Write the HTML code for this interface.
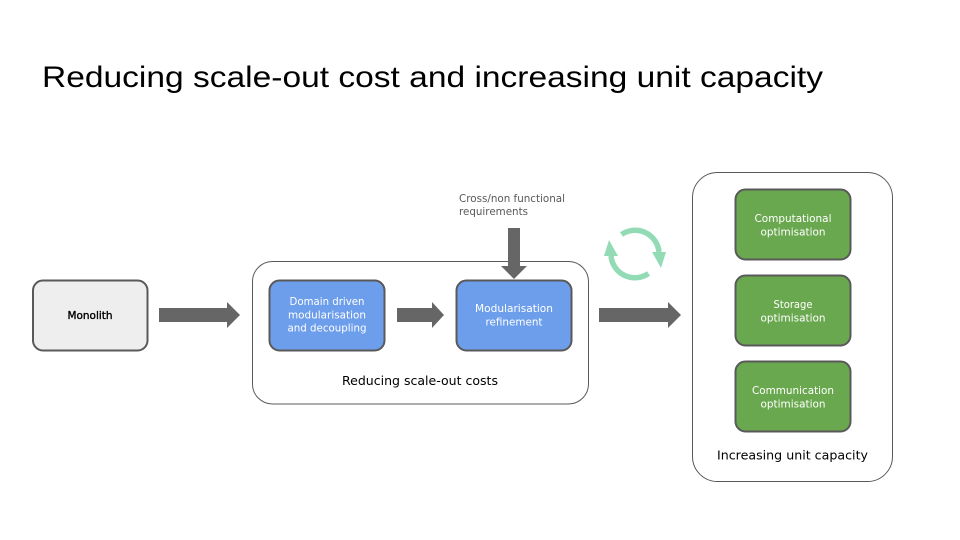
<!DOCTYPE html>
<html>
<head>
<meta charset="utf-8">
<style>
html,body{margin:0;padding:0;background:#fff;}
svg{display:block;}
</style>
</head>
<body>
<svg width="960" height="540" viewBox="0 0 960 540" xmlns="http://www.w3.org/2000/svg">
<rect width="960" height="540" fill="#ffffff"/>
<!-- Title -->
<text x="42" y="87" font-family="Liberation Sans, Arial, sans-serif" font-size="30" fill="#000" textLength="781" lengthAdjust="spacingAndGlyphs">Reducing scale-out cost and increasing unit capacity</text>

<!-- Monolith -->
<rect x="33" y="280.5" width="114.5" height="70" rx="10" fill="#eeeeee" stroke="#595959" stroke-width="2"/>
<text x="90" y="319" text-anchor="middle" font-family="DejaVu Sans, sans-serif" font-size="10.5" fill="#000" stroke="#000" stroke-width="0.35" textLength="45" lengthAdjust="spacingAndGlyphs">Monolith</text>

<!-- Arrow 1 -->
<polygon points="159,308 227,308 227,302 240,315 227,328 227,322 159,322" fill="#666666"/>

<!-- Left container -->
<rect x="252.5" y="261.5" width="336" height="142.5" rx="20" fill="none" stroke="#595959" stroke-width="1"/>

<!-- Domain box -->
<rect x="269.5" y="280.5" width="115" height="70" rx="10" fill="#6d9eeb" stroke="#595959" stroke-width="2"/>
<g font-family="DejaVu Sans, sans-serif" font-size="10.5" fill="#ffffff" text-anchor="middle">
<text x="327" y="305" textLength="75" lengthAdjust="spacingAndGlyphs">Domain driven</text>
<text x="327" y="318.5" textLength="78" lengthAdjust="spacingAndGlyphs">modularisation</text>
<text x="327" y="331.5" textLength="79" lengthAdjust="spacingAndGlyphs">and decoupling</text>
</g>

<!-- Arrow 2 -->
<polygon points="397,308 432,308 432,302 444,315 432,328 432,322 397,322" fill="#666666"/>

<!-- Modularisation refinement -->
<rect x="456.5" y="280.5" width="115" height="70" rx="10" fill="#6d9eeb" stroke="#595959" stroke-width="2"/>
<g font-family="DejaVu Sans, sans-serif" font-size="10.5" fill="#ffffff" text-anchor="middle">
<text x="514" y="312" textLength="78" lengthAdjust="spacingAndGlyphs">Modularisation</text>
<text x="514" y="325.5" textLength="57" lengthAdjust="spacingAndGlyphs">refinement</text>
</g>

<!-- Down arrow -->
<polygon points="508,228 520,228 520,266 527,266 514,279 501,266 508,266" fill="#666666"/>
<g font-family="DejaVu Sans, sans-serif" font-size="10.5" fill="#595959">
<text x="459" y="202" textLength="106" lengthAdjust="spacingAndGlyphs">Cross/non functional</text>
<text x="459" y="215" textLength="69" lengthAdjust="spacingAndGlyphs">requirements</text>
</g>

<text x="420" y="385" text-anchor="middle" font-family="DejaVu Sans, sans-serif" font-size="12.5" fill="#000" textLength="156" lengthAdjust="spacingAndGlyphs">Reducing scale-out costs</text>

<!-- Cycle icon -->
<g fill="none" stroke="#93dbb5" stroke-width="5.5">
<path d="M 621.5 234.5 A 24 24 0 0 1 659 252"/>
<path d="M 648.5 273.5 A 24 24 0 0 1 611 256"/>
</g>
<polygon points="652,252 666,252 661,268" fill="#93dbb5"/>
<polygon points="618,256 604,256 609,240" fill="#93dbb5"/>

<!-- Arrow 3 -->
<polygon points="599,308 668,308 668,302 681,315 668,328 668,322 599,322" fill="#666666"/>

<!-- Right container -->
<rect x="692.5" y="172.5" width="200" height="309" rx="25" fill="none" stroke="#595959" stroke-width="1"/>

<g stroke="#595959" stroke-width="2" fill="#6aa84f">
<rect x="735.5" y="189.5" width="115" height="70" rx="10"/>
<rect x="735.5" y="275.5" width="115" height="70" rx="10"/>
<rect x="735.5" y="361.5" width="115" height="70" rx="10"/>
</g>
<g font-family="DejaVu Sans, sans-serif" font-size="10.5" fill="#ffffff" text-anchor="middle">
<text x="793" y="222" textLength="77" lengthAdjust="spacingAndGlyphs">Computational</text>
<text x="793" y="235.5" textLength="65" lengthAdjust="spacingAndGlyphs">optimisation</text>
<text x="793" y="308" textLength="39" lengthAdjust="spacingAndGlyphs">Storage</text>
<text x="793" y="321.5" textLength="65" lengthAdjust="spacingAndGlyphs">optimisation</text>
<text x="793" y="394" textLength="82" lengthAdjust="spacingAndGlyphs">Communication</text>
<text x="793" y="407.5" textLength="65" lengthAdjust="spacingAndGlyphs">optimisation</text>
</g>

<text x="792.5" y="459.5" text-anchor="middle" font-family="DejaVu Sans, sans-serif" font-size="12.5" fill="#000" textLength="151" lengthAdjust="spacingAndGlyphs">Increasing unit capacity</text>
</svg>
</body>
</html>
